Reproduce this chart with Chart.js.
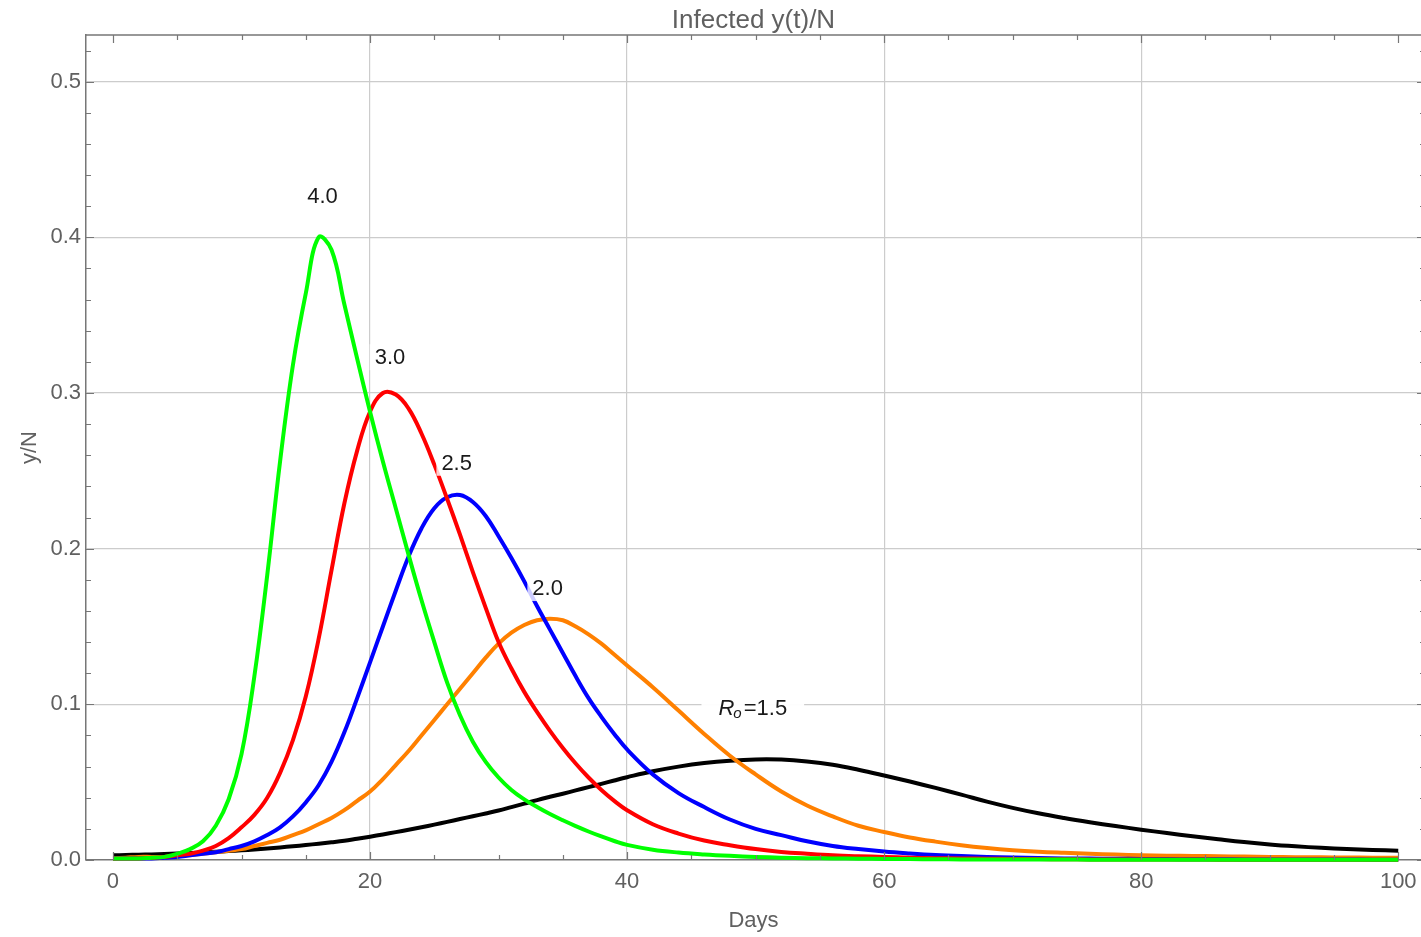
<!DOCTYPE html>
<html>
<head>
<meta charset="utf-8">
<title>Infected y(t)/N</title>
<script src="https://cdn.jsdelivr.net/npm/chart.js@4.4.1/dist/chart.umd.min.js"></script>
<style>
  html,body{margin:0;padding:0;background:#fff;}
  #wrap{width:1421px;height:937px;}
</style>
</head>
<body>
<div id="wrap"><canvas id="chart" width="1421" height="937"></canvas></div>
<script>
// days: 0..40 every day, then every 2 days to 100
const days = [
  0,1,2,3,4,5,6,7,8,9,10,11,12,13,14,15,16,17,18,19,20,
  21,22,23,24,25,26,27,28,29,30,31,32,33,34,35,36,37,38,39,40,
  42,44,46,48,50,52,54,56,58,60,62,64,66,68,70,
  72,74,76,78,80,82,84,86,88,90,92,94,96,98,100
];

// y/N, one list per R0
const infR40 = [
  0.001,0.001,0.001,0.0015,0.002,0.004,0.007,0.012,0.022,0.039,
  0.068,0.118,0.183,0.256,0.318,0.364,0.400,0.392,0.357,0.322,
  0.288,0.256,0.226,0.196,0.167,0.140,0.114,0.093,0.076,0.063,
  0.053,0.045,0.039,0.034,0.0295,0.0255,0.0218,0.0183,0.0151,0.0122,
  0.0097,
  0.0066,0.0048,0.0036,0.0027,0.002,0.0015,0.0012,0.001,0.0008,0.0007,
  0.0006,0.0005,0.0004,0.0004,0.0003,0.0003,0.0003,0.0002,0.0002,0.0002,
  0.0002,0.0002,0.0001,0.0001,0.0001,0.0001,0.0001,0.0001,0.0001,0.0001
];
const infR30 = [
  0.001,0.001,0.001,0.0015,0.002,0.003,0.004,0.006,0.009,0.014,
  0.021,0.029,0.040,0.056,0.077,0.105,0.142,0.186,0.229,0.263,
  0.288,0.300,0.299,0.290,0.274,0.254,0.232,0.209,0.185,0.162,
  0.140,0.123,0.108,0.095,0.083,0.072,0.062,0.053,0.045,0.038,
  0.032,
  0.023,0.017,0.0125,0.0095,0.007,0.0052,0.004,0.003,0.0024,0.002,
  0.0015,0.0012,0.001,0.0008,0.0007,0.0006,0.0005,0.0004,0.0004,0.0003,
  0.0003,0.0003,0.0002,0.0002,0.0002,0.0002,0.0001,0.0001,0.0001,0.0001
];
const infR25 = [
  0.001,0.001,0.001,0.001,0.0015,0.002,0.003,0.004,0.005,0.007,
  0.009,0.012,0.016,0.021,0.028,0.037,0.048,0.063,0.082,0.104,
  0.127,0.150,0.173,0.195,0.213,0.226,0.233,0.2345,0.230,0.221,
  0.208,0.194,0.179,0.163,0.148,0.133,0.118,0.104,0.092,0.081,
  0.071,
  0.055,0.043,0.034,0.026,0.020,0.016,0.012,0.009,0.007,0.0054,
  0.0042,0.0032,0.0025,0.002,0.0016,0.0013,0.001,0.0009,0.0008,0.0007,
  0.0006,0.0005,0.0005,0.0004,0.0004,0.0003,0.0003,0.0003,0.0002,0.0002
];
const infR20 = [
  0.001,0.0015,0.002,0.002,0.002,0.0025,0.003,0.004,0.005,0.006,
  0.007,0.009,0.011,0.013,0.016,0.019,0.023,0.027,0.032,0.038,
  0.044,0.052,0.061,0.070,0.080,0.090,0.100,0.110,0.120,0.130,
  0.139,0.146,0.151,0.154,0.155,0.154,0.150,0.145,0.139,0.132,
  0.125,
  0.111,0.096,0.081,0.067,0.055,0.044,0.035,0.028,0.022,0.018,
  0.0145,0.0118,0.0095,0.0077,0.0063,0.0053,0.0046,0.004,0.0035,0.0031,
  0.0028,0.0026,0.0024,0.0022,0.002,0.0018,0.0017,0.0016,0.0015,0.0014
];
const infR15 = [
  0.0030,0.0032,0.0034,0.0036,0.0039,0.0042,0.0045,0.0049,0.0053,0.0057,
  0.0062,0.0068,0.0074,0.0081,0.0088,0.0096,0.0105,0.0114,0.0124,0.0137,
  0.0150,0.0164,0.0179,0.0194,0.0210,0.0227,0.0245,0.0263,0.0281,0.0299,
  0.0318,0.0340,0.0362,0.0385,0.0406,0.0426,0.0447,0.0468,0.0489,0.0511,
  0.0532,
  0.0570,0.0600,0.0623,0.0638,0.0646,0.0645,0.0633,0.0612,0.0580,0.0543,
  0.0504,0.0463,0.0420,0.0375,0.0335,0.0300,0.0270,0.0243,0.0218,0.0195,
  0.0173,0.0152,0.0133,0.0115,0.0100,0.0088,0.0078,0.0070,0.0064,0.0060
];

const xTicks = [0,20,40,60,80,100];
const yTicks = [0,0.1,0.2,0.3,0.4,0.5];

// curve labels (text, day, y/N at label centre)
const labelText = ["4.0","3.0","2.5","2.0","1.5"];
const labelDay  = [16.3, 21.55, 26.74, 33.82, 49.78];
const labelVal  = [0.4264, 0.323, 0.2552, 0.1747, 0.0975];

const FONT = "'Liberation Sans', Arial, sans-serif";
const GRAY = "#606060";
const FRAME = "#777777";

function pts(arr){ return days.map((d,i)=>({x:d, y:arr[i]})); }
function ds(label, arr, color){
  return {
    label, data: pts(arr), borderColor: color, backgroundColor: color,
    borderWidth: 4, pointRadius: 0, fill: false,
    tension: 0.4, clip: 5
  };
}

// frame, inward ticks, curve labels
const framePlugin = {
  id: "frame",
  afterDatasetsDraw(chart){
    const {ctx, chartArea:a, scales:{x, y}} = chart;
    const rightEdge = 1425;
    ctx.save();
    ctx.strokeStyle = FRAME;
    ctx.lineWidth = 1.5;
    ctx.beginPath();
    ctx.moveTo(a.left, a.top); ctx.lineTo(rightEdge, a.top);
    ctx.moveTo(rightEdge, a.top); ctx.lineTo(rightEdge, a.bottom);
    ctx.stroke();

    ctx.lineWidth = 1.2;
    ctx.beginPath();
    for(let v=0; v<=100; v+=5){
      const px = Math.round(x.getPixelForValue(v)) + 0.5;
      const len = (v % 20 === 0) ? 8 : 5;
      ctx.moveTo(px, a.bottom); ctx.lineTo(px, a.bottom - len);
      ctx.moveTo(px, a.top); ctx.lineTo(px, a.top + len);
    }
    for(let k=0; k<=26; k++){
      const v = k*0.02;
      const py = Math.round(y.getPixelForValue(v)) + 0.5;
      const len = (k % 5 === 0) ? 8 : 5;
      ctx.moveTo(a.left, py); ctx.lineTo(a.left + len, py);
      ctx.moveTo(rightEdge, py); ctx.lineTo(rightEdge - len, py);
    }
    ctx.stroke();

    // labels with whitish boxes
    ctx.textBaseline = "middle";
    labelText.forEach((t, i)=>{
      const cx = x.getPixelForValue(labelDay[i]);
      const cy = y.getPixelForValue(labelVal[i]);
      if(i < 4){
        ctx.font = "22px " + FONT;
        const w = ctx.measureText(t).width;
        ctx.fillStyle = "rgba(255,255,255,0.8)";
        ctx.fillRect(cx - w/2 - 5, cy - 13, w + 10, 26);
        ctx.fillStyle = "#1a1a1a";
        ctx.textAlign = "center";
        ctx.fillText(t, cx, cy + 1);
      }else{
        const fR = "italic 22px " + FONT, fO = "italic 15px " + FONT, fN = "22px " + FONT;
        const rest = "=" + t;
        ctx.font = fR; const wR = ctx.measureText("R").width;
        ctx.font = fO; const wO = ctx.measureText("o").width;
        ctx.font = fN; const wN = ctx.measureText(rest).width;
        const total = wR + wO + 1 + wN;
        let sx = cx - total/2;
        ctx.fillStyle = "rgba(255,255,255,0.95)";
        ctx.fillRect(sx - 17, cy - 14, total + 34, 28);
        ctx.fillStyle = "#1a1a1a";
        ctx.textAlign = "left";
        ctx.font = fR; ctx.fillText("R", sx, cy + 1); sx += wR;
        ctx.font = fO; ctx.fillText("o", sx - 1, cy + 6); sx += wO + 1;
        ctx.font = fN; ctx.fillText(rest, sx, cy + 1);
      }
    });
    ctx.restore();
  },
  afterDraw(chart){
    const {ctx, chartArea:a} = chart;
    ctx.save();
    ctx.font = "26px " + FONT;
    ctx.fillStyle = GRAY;
    ctx.textAlign = "center";
    ctx.textBaseline = "alphabetic";
    ctx.fillText("Infected y(t)/N", (a.left + a.right)/2, 28);
    ctx.restore();
  }
};

Chart.defaults.font.family = FONT;

new Chart(document.getElementById("chart"), {
  type: "line",
  data: {
    datasets: [
      ds("R0=4.0", infR40, "#00ff00"),
      ds("R0=3.0", infR30, "#ff0000"),
      ds("R0=2.5", infR25, "#0000ff"),
      ds("R0=2.0", infR20, "#ff8000"),
      ds("R0=1.5", infR15, "#000000")
    ]
  },
  options: {
    responsive: false,
    animation: false,
    layout: { padding: { top: 35, left: 0, right: 0, bottom: 0 } },
    plugins: { legend: { display: false }, tooltip: { enabled: false }, title: { display: false } },
    scales: {
      x: {
        type: "linear", min: -2.1, max: 101.77,
        afterFit: (s)=>{ s.height = 77; s.paddingLeft = 0; s.paddingRight = 0; },
        afterBuildTicks: (s)=>{ s.ticks = xTicks.map(v=>({value:v})); },
        grid: {
          drawTicks: false,
          color: (c)=> (c.tick && c.tick.value > 0 && c.tick.value < 100) ? "#cccccc" : "rgba(0,0,0,0)",
          lineWidth: 1.2
        },
        border: { display: true, color: FRAME, width: 1.5 },
        ticks: { color: GRAY, font: { size: 22 }, padding: 9, maxRotation: 0,
                 callback: (v)=> String(v) },
        title: { display: true, text: "Days", color: GRAY, font: { size: 22 },
                 padding: { top: 0, bottom: 3 } }
      },
      y: {
        type: "linear", min: 0, max: 0.530,
        afterFit: (s)=>{ s.width = 86; s.paddingTop = 0; s.paddingBottom = 0; },
        afterBuildTicks: (s)=>{ s.ticks = yTicks.map(v=>({value:v})); },
        grid: {
          drawTicks: false,
          color: (c)=> (c.tick && c.tick.value > 0) ? "#cccccc" : "rgba(0,0,0,0)",
          lineWidth: 1.2
        },
        border: { display: true, color: FRAME, width: 1.5 },
        ticks: { color: GRAY, font: { size: 22 }, padding: 5,
                 callback: (v)=> Number(v).toFixed(1) },
        title: { display: true, text: "y/N", color: GRAY, font: { size: 22 },
                 padding: { top: 17, bottom: 0 } }
      }
    }
  },
  plugins: [framePlugin]
});
</script>
</body>
</html>
